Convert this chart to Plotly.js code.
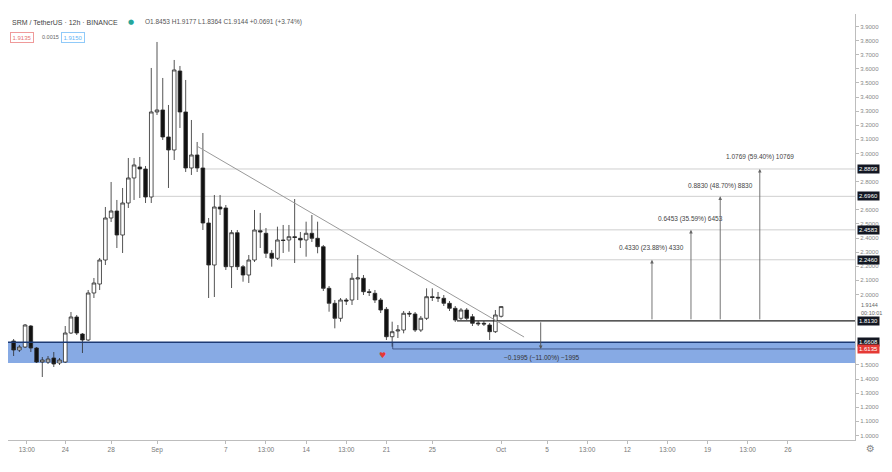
<!DOCTYPE html>
<html><head><meta charset="utf-8">
<script src="https://cdn.plot.ly/plotly-3.0.1.min.js"></script>
<style>html,body{margin:0;padding:0;background:#fff;}#chart{width:892px;height:472px;}</style>
</head><body><div id="chart"></div>
<script>
// 12h candles, SRM/USDT, Aug 19 12:00 -> Oct 1 00:00 (x = candle index)
const openP = [1.6701,1.6062,1.6275,1.7764,1.6204,1.5211,1.5211,1.5495,1.5140,1.5211,
1.7268,1.8403,1.7197,1.6772,2.0105,2.0743,2.2445,2.5424,2.5920,2.4218,
2.6488,2.8261,2.9041,2.8899,2.6913,3.2942,3.3084,3.1169,3.0247,3.5850,
3.2942,2.8970,2.9892,2.8970,2.5069,2.2091,2.6204,2.6133,2.1970,2.4381,
2.1970,2.1381,2.2445,2.4523,2.4339,2.2921,2.2566,2.3864,2.3864,2.4098,
2.3984,2.3864,2.4339,2.3984,2.3389,2.0438,1.9374,1.8311,1.9608,1.9608,
2.1098,2.1147,2.0197,2.0084,1.9608,1.8949,1.7005,1.7410,1.7481,1.8665,
1.8616,1.7481,1.8311,1.9842,1.9800,1.9729,1.9374,1.9020,1.8311,1.8899,
1.8424,1.7977,1.7956,1.7835,1.7360,1.8453];
const highP = [1.6842,1.6417,1.7906,1.7835,1.6275,1.5566,1.5637,1.5920,1.5495,1.7764,
1.8757,1.8545,1.7268,2.0318,2.1169,2.2587,2.6204,2.7977,2.6701,2.7552,
2.9679,2.9679,2.9750,2.9112,3.6062,3.7906,3.5353,3.3438,3.6630,3.6204,
3.5211,3.2374,3.0814,3.1452,2.5424,2.7055,2.7055,2.6346,2.4573,2.4573,
2.2091,2.2800,2.5991,2.5779,2.4715,2.3155,2.4807,2.4928,2.4928,2.6770,
2.4431,2.5162,2.5637,2.5162,2.3509,2.0601,1.9608,1.9750,1.9750,2.1523,
2.2800,2.1381,2.0389,2.0318,1.9750,1.9112,1.8070,1.7835,1.8828,1.8828,
1.8757,1.8474,2.0438,2.0438,2.0176,1.9963,1.9537,1.9183,1.9041,1.9041,
1.8616,1.8119,1.8119,1.7977,1.8899,1.9177];
const lowP = [1.5637,1.5920,1.6204,1.5920,1.5140,1.4147,1.5069,1.4857,1.4998,1.5140,
1.7197,1.7126,1.5850,1.6701,1.9750,2.0318,2.2091,2.5140,2.3296,2.2942,
2.6133,2.6701,2.6842,2.6488,2.6488,3.2729,3.0956,2.7552,2.9537,3.1807,
2.8686,2.8474,2.8686,2.4573,1.9750,1.9821,2.5637,2.1736,2.0459,2.1736,
2.0906,2.0814,2.2303,2.3296,2.2587,2.1970,2.2445,2.2942,2.3034,2.2233,
2.3296,2.2679,2.3722,2.2921,2.0247,1.8778,1.7601,1.8070,1.9254,1.9254,
1.9608,1.9963,1.9892,1.9396,1.8686,1.6772,1.6296,1.6913,1.7247,1.8403,
1.7339,1.7339,1.8190,1.9537,1.9467,1.9183,1.8828,1.8048,1.8190,1.8190,
1.7764,1.7764,1.7764,1.6772,1.7268,1.8364];
const closeP = [1.6062,1.6275,1.7835,1.6204,1.5211,1.5353,1.5424,1.5069,1.5353,1.7268,
1.8403,1.7268,1.6772,2.0105,2.0814,2.2445,2.5424,2.5920,2.4218,2.6488,
2.8261,2.9183,2.8899,2.6913,3.2942,3.3084,3.1169,3.0247,3.5920,3.2942,
2.8970,2.9892,2.8970,2.5069,2.2091,2.6204,2.6062,2.1970,2.4381,2.1970,
2.1381,2.2445,2.4573,2.4431,2.2921,2.2566,2.3864,2.3828,2.4098,2.4041,
2.3864,2.4339,2.3984,2.3389,2.0438,1.9374,1.8311,1.9608,1.9537,2.1147,
2.1169,2.0197,2.0140,1.9608,1.8899,1.7005,1.7360,1.7481,1.8665,1.8616,
1.7481,1.8311,1.9842,1.9786,1.9750,1.9374,1.9020,1.8190,1.8899,1.8311,
1.7956,1.7921,1.7906,1.7360,1.8545,1.9144];

const xTickVals = [2.3, 9, 17, 25, 37, 44, 51, 58, 65, 73, 85, 93, 100, 107, 114, 121, 128, 135];
const xTickText = ['13:00','24','28','Sep','7','13:00','14','13:00','21','25','Oct','5','13:00','12','13:00','19','13:00','26'];
// price-scale labels that are not hidden behind the marker boxes
const yTickVals = [1.0,1.1,1.2,1.3,1.4,1.5,2.0,2.1,2.2,2.3,2.4,2.5,2.6,2.8,3.0,3.1,3.2,3.3,3.4,3.5,3.6,3.7,3.8,3.9];
const yTickText = ['1.0000','1.1000','1.2000','1.3000','1.4000','1.5000','2.0000','2.1000','2.2000','2.3000','2.4000','2.5000','2.6000','2.8000','3.0000','3.1000','3.2000','3.3000','3.4000','3.5000','3.6000','3.7000','3.8000','3.9000'];

const basePrice = 1.8130;
const targetPrices = [2.2460, 2.4583, 2.6960, 2.8899];
const targetLabels = ['0.4330 (23.88%) 4330','0.6453 (35.59%) 6453','0.8830 (48.70%) 8830','1.0769 (59.40%) 10769'];
const targetArrowX = [111.3, 118.1, 123.2, 130.1];
const targetLineStart = [46.1, 42.4, 24.3, 32.5];
const targetLabelY = [2.3296, 2.5353, 2.7694, 2.9750];
const stopPrice = 1.6135;
const stopLabel = '\u22120.1995 (\u221211.00%) \u22121995';
const zoneTop = 1.6608, zoneBottom = 1.514;
const trendX = [32.15, 89.0], trendY = [3.048, 1.6984];
const axisBoxes = [['2.8899',2.8899,'#131722'],['2.6960',2.6960,'#131722'],['2.4583',2.4583,'#131722'],['2.2460',2.2460,'#131722'],['1.8130',1.8130,'#131722'],['1.6608',1.6608,'#131722'],['1.6135',1.6135,'#e53935']];

const FONT = 'Liberation Sans, Arial, sans-serif';
const px2x = px => (px - 8) / 847;
const px2y = py => (440 - py) / 426;

const trace = {
  type: 'candlestick',
  open: openP, high: highP, low: lowP, close: closeP,
  increasing: {line: {color: '#2a2a2a', width: 0.8}, fillcolor: '#ffffff'},
  decreasing: {line: {color: '#2a2a2a', width: 0.8}, fillcolor: '#111111'},
  whiskerwidth: 0,
  hoverinfo: 'skip'
};

const shapes = [
  {type:'rect', xref:'paper', x0:0, x1:1, yref:'y', y0:zoneBottom, y1:zoneTop, fillcolor:'rgb(135,170,228)', line:{width:0}, layer:'below'},
  {type:'line', xref:'paper', x0:0, x1:1, yref:'y', y0:zoneTop, y1:zoneTop, line:{color:'#1d3a74', width:1.5}},
  {type:'line', xref:'x', x0:66.1, x1:150, yref:'y', y0:stopPrice, y1:stopPrice, line:{color:'rgba(40,55,100,0.7)', width:1}},
  {type:'line', xref:'x', x0:66.1, x1:66.1, yref:'y', y0:zoneTop, y1:stopPrice, line:{color:'rgba(40,55,100,0.7)', width:1}},
  {type:'line', xref:'x', x0:77.3, x1:150, yref:'y', y0:basePrice, y1:basePrice, line:{color:'#222', width:1.3}},
  {type:'line', xref:'x', x0:trendX[0], x1:trendX[1], yref:'y', y0:trendY[0], y1:trendY[1], line:{color:'#9a9a9a', width:1}}
];
targetPrices.forEach((p,i) => shapes.push({type:'line', xref:'x', x0:targetLineStart[i], x1:150, yref:'y', y0:p, y1:p, line:{color:'#cfcfcf', width:1}, layer:'below'}));

const annotations = [];
targetPrices.forEach((p,i) => {
  annotations.push({x:targetArrowX[i], y:p, ax:targetArrowX[i], ay:basePrice, xref:'x', yref:'y', axref:'x', ayref:'y', text:'', showarrow:true, arrowhead:2, arrowsize:0.8, arrowwidth:0.9, arrowcolor:'#666'});
  annotations.push({x:targetArrowX[i], y:targetLabelY[i], xref:'x', yref:'y', text:targetLabels[i], showarrow:false, font:{family:FONT, size:6.5, color:'#444'}});
});
annotations.push({x:91.9, y:stopPrice, ax:91.9, ay:basePrice, xref:'x', yref:'y', axref:'x', ayref:'y', text:'', showarrow:true, arrowhead:2, arrowsize:0.8, arrowwidth:0.9, arrowcolor:'#555'});
annotations.push({x:92.1, y:1.5495, xref:'x', yref:'y', text:stopLabel, showarrow:false, font:{family:FONT, size:6.5, color:'#333'}});
annotations.push({x:64.4, y:1.5708, xref:'x', yref:'y', text:'\u2665', showarrow:false, font:{family:'DejaVu Sans', size:8, color:'#e53935'}});

axisBoxes.forEach(b => annotations.push({xref:'paper', x:1, xanchor:'left', xshift:2, yref:'y', y:b[1], text:b[0], showarrow:false, bgcolor:b[2], borderpad:1, font:{family:FONT, size:6, color:'#fff'}}));
annotations.push({xref:'paper', x:1, xanchor:'left', xshift:4, yref:'y', y:1.9230, text:'1.9144', showarrow:false, font:{family:FONT, size:5.5, color:'#666'}});
annotations.push({xref:'paper', x:1, xanchor:'left', xshift:4, yref:'y', y:1.8680, text:'00:10:01', showarrow:false, font:{family:FONT, size:5.5, color:'#666'}});

// header
annotations.push({xref:'paper', yref:'paper', x:px2x(10), y:px2y(22), xanchor:'left', yanchor:'middle', showarrow:false, text:'SRM / TetherUS · 12h · BINANCE', font:{family:FONT, size:7, color:'#444'}});
annotations.push({xref:'paper', yref:'paper', x:px2x(131), y:px2y(22), xanchor:'center', yanchor:'middle', showarrow:false, text:'\u25CF', font:{family:'DejaVu Sans', size:7, color:'#26a69a'}});
annotations.push({xref:'paper', yref:'paper', x:px2x(143), y:px2y(22), xanchor:'left', yanchor:'middle', showarrow:false, text:'O1.8453 H1.9177 L1.8364 C1.9144 +0.0691 (+3.74%)', font:{family:FONT, size:6.5, color:'#555'}});
annotations.push({xref:'paper', yref:'paper', x:px2x(10), y:px2y(37.5), xanchor:'left', yanchor:'middle', showarrow:false, text:'1.9135', bordercolor:'#ef9a9a', borderwidth:1, borderpad:1.5, bgcolor:'#fff', font:{family:FONT, size:6, color:'#e57373'}});
annotations.push({xref:'paper', yref:'paper', x:px2x(40), y:px2y(37.5), xanchor:'left', yanchor:'middle', showarrow:false, text:'0.0015', font:{family:FONT, size:5.5, color:'#666'}});
annotations.push({xref:'paper', yref:'paper', x:px2x(61), y:px2y(37.5), xanchor:'left', yanchor:'middle', showarrow:false, text:'1.9150', bordercolor:'#90caf9', borderwidth:1, borderpad:1.5, bgcolor:'#fff', font:{family:FONT, size:6, color:'#64b5f6'}});
annotations.push({xref:'paper', yref:'paper', x:px2x(871), y:px2y(448), xanchor:'center', yanchor:'middle', showarrow:false, text:'\u2699', font:{family:'DejaVu Sans', size:10, color:'#888'}});

const layout = {
  width: 892, height: 472,
  margin: {l:8, r:37, t:14, b:32},
  paper_bgcolor: '#ffffff', plot_bgcolor: '#ffffff',
  showlegend: false,
  boxgap: 0.1,
  font: {family: FONT},
  xaxis: {range:[-0.98, 146.7], rangeslider:{visible:false}, showgrid:false, zeroline:false,
    tickmode:'array', tickvals:xTickVals, ticktext:xTickText, ticks:'outside', ticklen:3, tickcolor:'#bbb',
    showline:true, linecolor:'#bdbdbd', linewidth:1, tickfont:{size:6.5, color:'#777'}},
  yaxis: {range:[0.968, 3.989], side:'right', showgrid:false, zeroline:false,
    tickmode:'array', tickvals:yTickVals, ticktext:yTickText, ticks:'outside', ticklen:3, tickcolor:'#bbb',
    showline:true, linecolor:'#bdbdbd', linewidth:1, tickfont:{size:6, color:'#888'}},
  shapes: shapes,
  annotations: annotations
};

Plotly.newPlot('chart', [trace], layout, {displayModeBar:false, staticPlot:true});
</script>
</body></html>
